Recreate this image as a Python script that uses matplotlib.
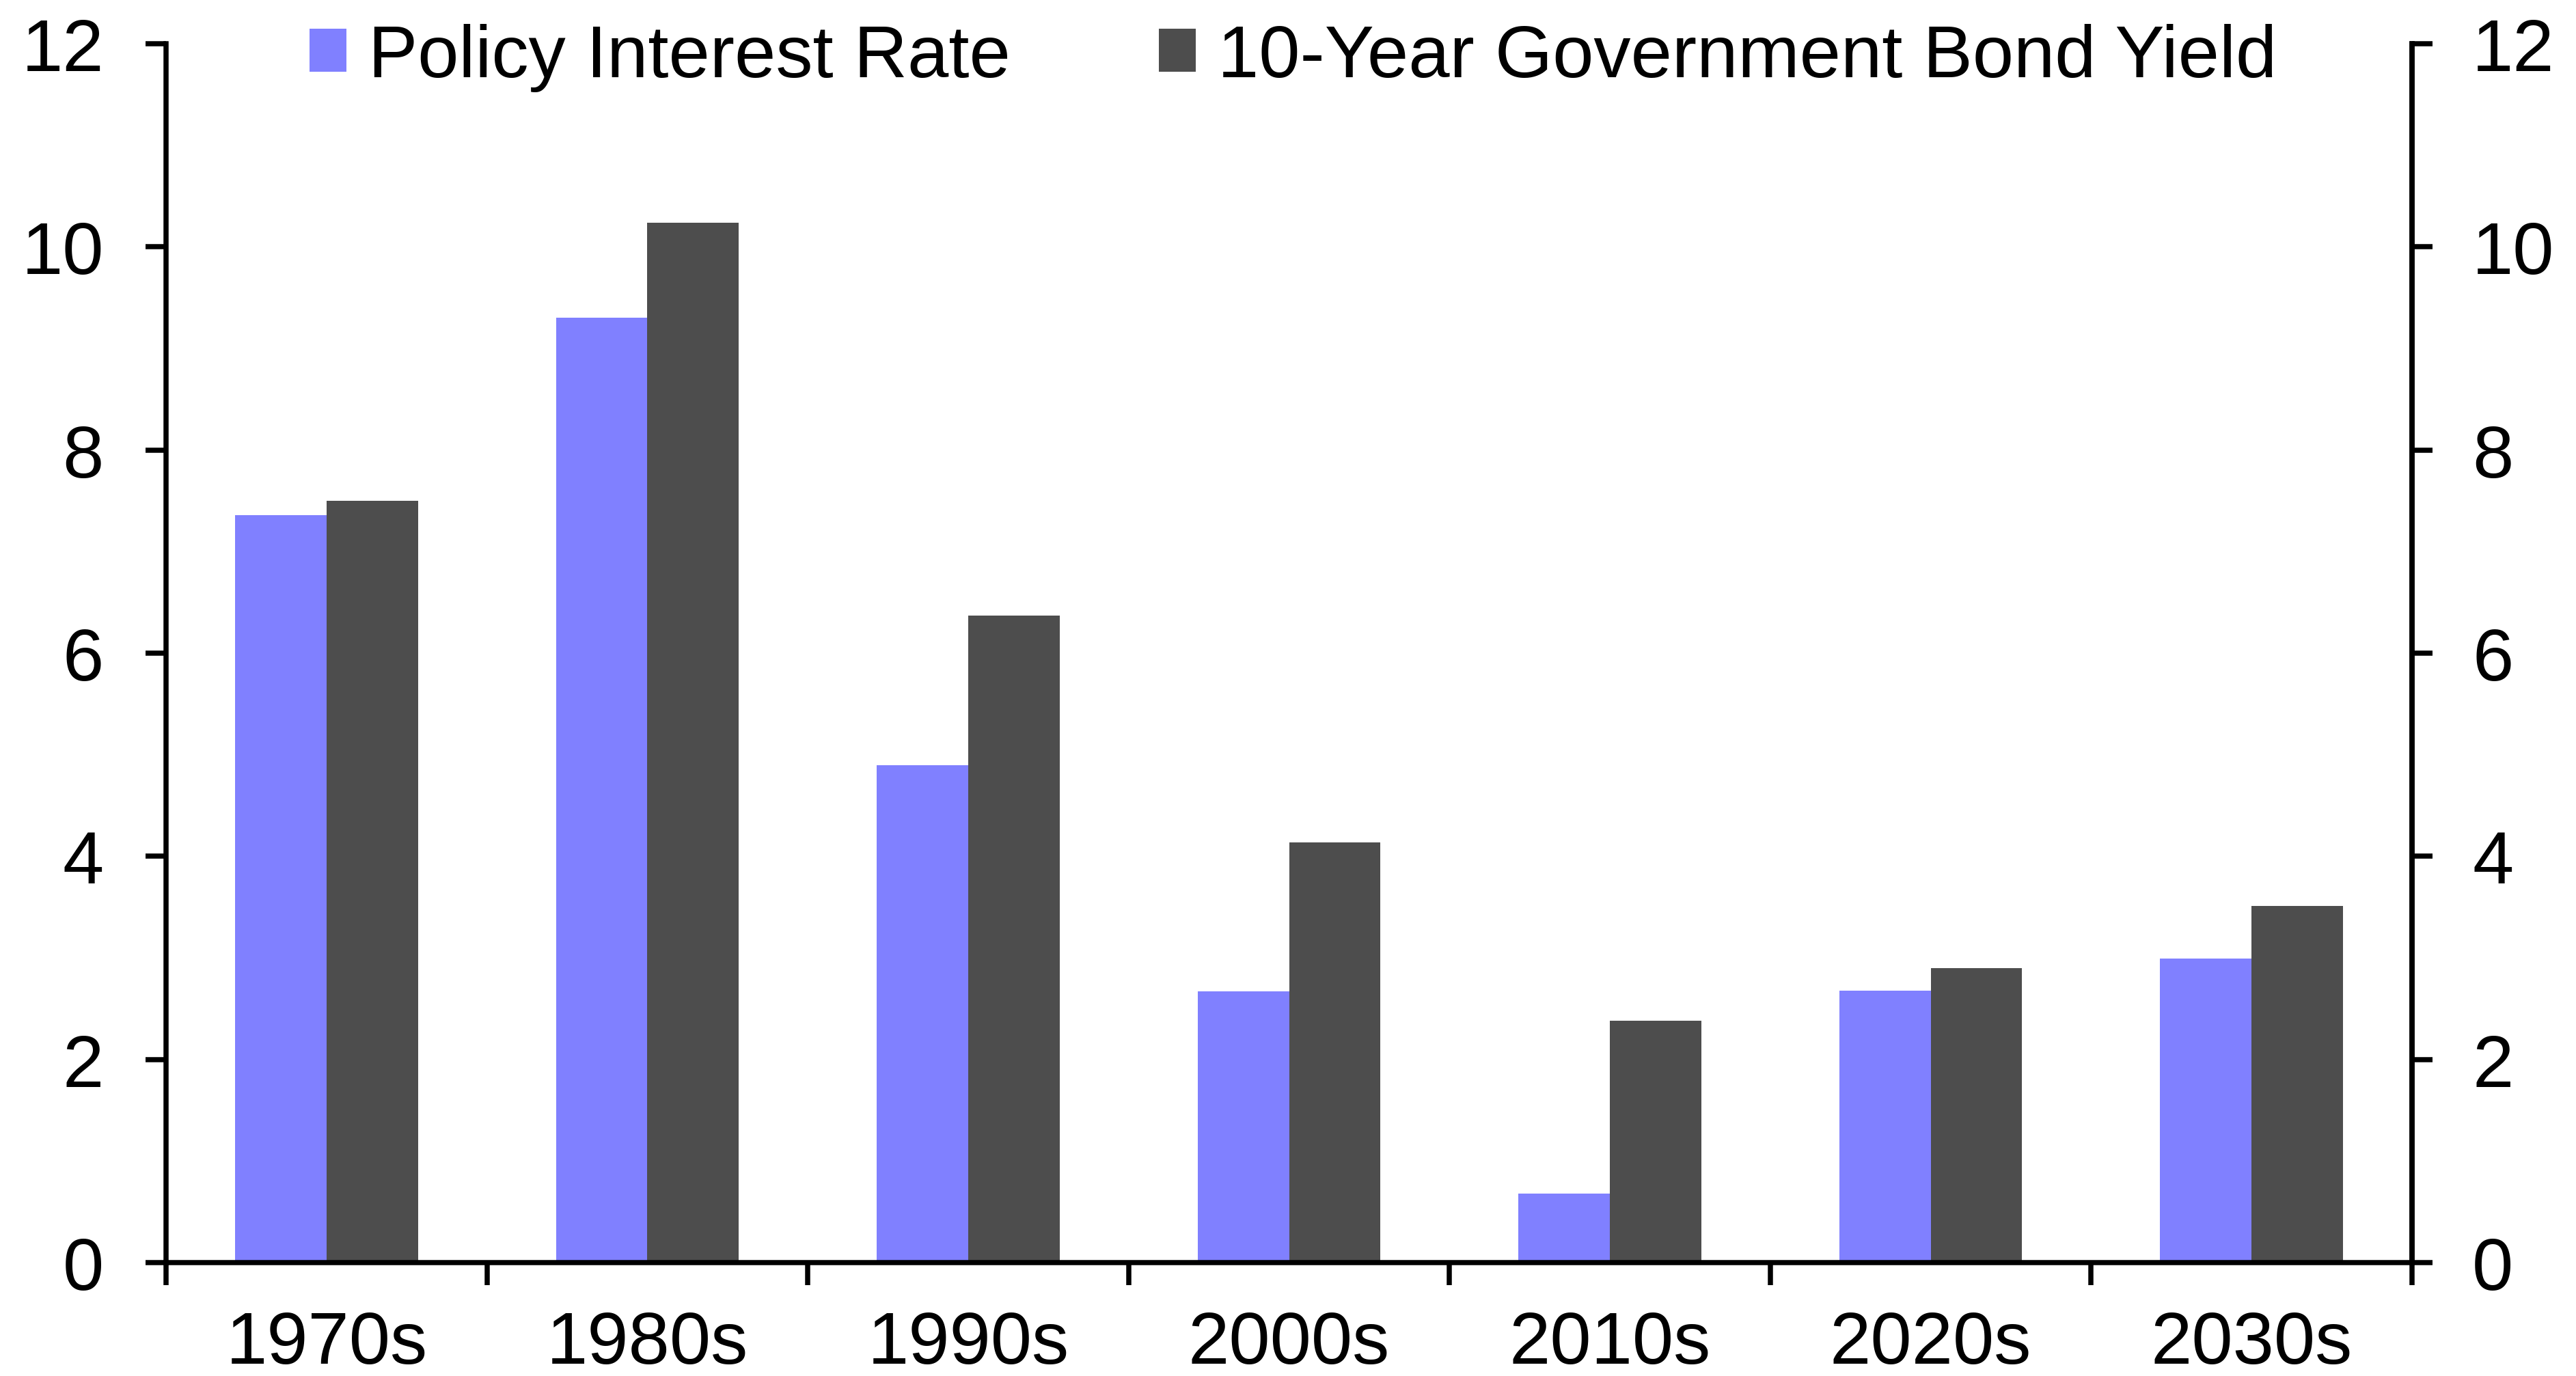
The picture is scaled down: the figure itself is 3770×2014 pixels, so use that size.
import numpy as np
import matplotlib.pyplot as plt

# Datos
decadas = ['1970s', '1980s', '1990s', '2000s', '2010s', '2020s', '2030s']
tipo_oficial = [7.36, 9.30, 4.90, 2.67, 0.68, 2.68, 2.99]
bono_10a = [7.50, 10.24, 6.37, 4.14, 2.38, 2.90, 3.51]

plt.rcParams['font.family'] = ['Liberation Sans', 'DejaVu Sans']
tam = 78

fig = plt.figure(figsize=(37.7, 20.15), dpi=100)
ax = fig.add_axes([0.0645, 0.0824, 0.8718, 0.8853])

x = np.arange(len(decadas))
ancho = 0.285
ax.bar(x - ancho / 2, tipo_oficial, ancho, color='#8080FF', label='Policy Interest Rate')
ax.bar(x + ancho / 2, bono_10a, ancho, color='#4D4D4D', label='10-Year Government Bond Yield')

ax.set_xlim(-0.5, len(decadas) - 0.5)
ax.set_ylim(0, 12)
ax.set_yticks(range(0, 13, 2))

# Ticks del eje x en los limites de cada categoria, etiquetas en el centro
ax.set_xticks(np.arange(-0.5, len(decadas), 1))
ax.set_xticklabels([])
ax.set_xticks(x, minor=True)
ax.set_xticklabels(decadas, minor=True)
ax.tick_params(axis='x', which='major', direction='out', length=24, width=5.4)
ax.tick_params(axis='x', which='minor', length=0, pad=50, labelsize=tam)

ax.tick_params(axis='y', direction='out', length=21.6, width=5.4, labelsize=tam, pad=44)

for lado in ['left', 'right', 'bottom']:
    ax.spines[lado].set_linewidth(5.4)
ax.spines['top'].set_visible(False)

# Eje derecho con la misma escala
ax2 = ax.twinx()
ax2.set_ylim(0, 12)
ax2.set_yticks(range(0, 13, 2))
ax2.tick_params(axis='y', direction='out', length=21.6, width=5.4, labelsize=tam, pad=42)
for lado in ['left', 'right', 'bottom', 'top']:
    ax2.spines[lado].set_visible(False)
ax2.spines['right'].set_visible(True)
ax2.spines['right'].set_linewidth(5.4)

fig.legend(loc='upper center', bbox_to_anchor=(0.502, 1.031), ncol=2, frameon=False,
           fontsize=tam, handlelength=0.5, handleheight=0.52, handletextpad=0.3,
           columnspacing=2.0)

fig.savefig('out.png', dpi=100)
